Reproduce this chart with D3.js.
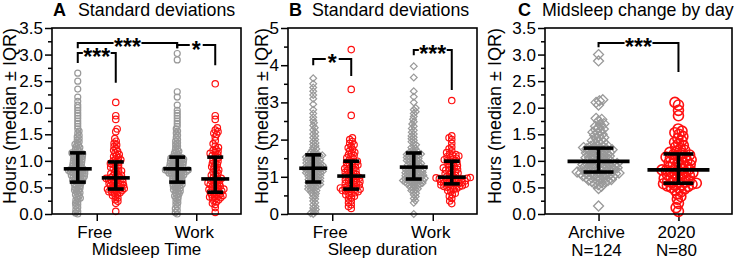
<!DOCTYPE html>
<html>
<head>
<meta charset="utf-8">
<script src="https://cdn.jsdelivr.net/npm/d3@7"></script>
<style>
  body { margin: 0; background: #fff; }
  svg { display: block; }
  text { font-family: "Liberation Sans", Arial, sans-serif; }
</style>
</head>
<body>
<div id="chart"></div>
<script>
// ---- data (hours) ----
const catsAB = ["Free", "Work"];
const catsC = ["Archive", "2020"];
const labelsC = [["Archive", "N=124"], ["2020", "N=80"]];

// A: SD of midsleep time
const aFreeArchive = [0,0.02,0.05,0.08,0.12,0.15,0.18,0.2,0.23,0.26,0.28,0.3,0.32,0.34,0.36,0.38,0.4,0.42,0.44,0.45,0.47,0.48,0.5,0.51,0.53,0.54,0.56,0.57,0.58,0.6,0.61,
  0.62,0.63,0.64,0.65,0.66,0.67,0.68,0.69,0.7,0.71,0.71,0.72,0.73,0.74,0.75,0.75,0.76,0.77,0.78,0.78,0.79,0.8,0.8,0.81,0.82,0.82,0.83,0.83,0.84,0.84,0.85,
  0.86,0.87,0.88,0.89,0.9,0.91,0.92,0.93,0.94,0.95,0.96,0.97,0.98,0.99,1.0,1.01,1.02,1.03,1.04,1.05,1.06,1.07,1.08,1.09,1.1,1.11,1.12,1.13,1.14,1.15,1.15,
  1.17,1.19,1.21,1.23,1.25,1.27,1.29,1.31,1.33,1.36,1.39,1.42,1.45,1.48,1.52,1.56,1.6,1.65,1.7,1.75,1.8,1.85,1.9,1.95,2.0,2.05,2.12,2.2,2.35,2.5,2.65];
const aFree2020 = [0.05,0.2,0.24,0.27,0.3,0.33,0.35,0.37,0.39,0.4,0.41,0.42,0.43,0.44,0.45,0.46,0.47,0.47,0.48,0.49,
  0.5,0.51,0.52,0.53,0.54,0.55,0.56,0.57,0.58,0.59,0.6,0.61,0.62,0.63,0.64,0.65,0.66,0.66,0.67,0.68,
  0.69,0.7,0.72,0.73,0.75,0.76,0.78,0.8,0.81,0.83,0.85,0.86,0.88,0.9,0.92,0.93,0.95,0.97,0.98,1.0,
  1.02,1.04,1.06,1.08,1.1,1.12,1.15,1.18,1.2,1.23,1.27,1.3,1.33,1.37,1.42,1.55,1.6,1.78,1.85,2.1];
const aWorkArchive = [0,0.03,0.07,0.1,0.14,0.18,0.21,0.24,0.27,0.3,0.32,0.34,0.36,0.38,0.4,0.42,0.43,0.45,0.46,0.48,0.49,0.5,0.52,0.53,0.54,0.55,0.56,0.57,0.58,0.59,0.6,
  0.61,0.62,0.63,0.64,0.65,0.66,0.67,0.68,0.69,0.7,0.71,0.72,0.73,0.74,0.74,0.75,0.76,0.77,0.77,0.78,0.79,0.79,0.8,0.8,0.81,0.81,0.82,0.82,0.83,0.83,0.84,
  0.85,0.86,0.86,0.87,0.88,0.89,0.89,0.9,0.91,0.92,0.92,0.93,0.94,0.95,0.95,0.96,0.97,0.98,0.98,0.99,1.0,1.0,1.01,1.02,1.03,1.03,1.04,1.05,1.05,1.06,1.07,
  1.08,1.1,1.12,1.14,1.16,1.18,1.2,1.22,1.25,1.28,1.31,1.34,1.37,1.4,1.44,1.48,1.52,1.56,1.6,1.65,1.7,1.75,1.8,1.85,1.9,1.95,2.05,2.2,2.3,2.9,3.02];
const aWork2020 = [0.03,0.12,0.18,0.2,0.23,0.25,0.27,0.29,0.3,0.31,0.32,0.33,0.34,0.35,0.36,0.37,0.38,0.4,0.41,0.42,
  0.43,0.44,0.45,0.46,0.47,0.48,0.5,0.51,0.52,0.54,0.55,0.56,0.58,0.59,0.6,0.62,0.63,0.64,0.66,0.67,
  0.69,0.71,0.73,0.75,0.77,0.79,0.81,0.83,0.85,0.87,0.89,0.91,0.93,0.95,0.97,0.99,1.01,1.03,1.06,1.09,
  1.1,1.12,1.14,1.16,1.18,1.2,1.22,1.25,1.28,1.32,1.38,1.45,1.5,1.52,1.55,1.58,1.62,1.78,1.85,2.45];

// B: SD of sleep duration
const bFreeArchive = [0,0.02,0.05,0.08,0.12,0.16,0.2,0.25,0.3,0.35,0.4,0.44,0.48,0.52,0.55,0.58,0.61,0.63,0.65,0.67,0.69,0.71,0.73,0.75,0.76,0.78,0.79,0.81,0.82,0.84,0.85,
  0.86,0.88,0.89,0.9,0.92,0.93,0.94,0.96,0.97,0.98,1.0,1.01,1.02,1.04,1.05,1.06,1.08,1.09,1.1,1.11,1.12,1.13,1.14,1.15,1.16,1.17,1.18,1.19,1.2,1.21,1.22,
  1.23,1.24,1.25,1.26,1.27,1.28,1.29,1.3,1.31,1.32,1.33,1.35,1.36,1.37,1.38,1.4,1.41,1.42,1.43,1.45,1.46,1.47,1.48,1.5,1.51,1.52,1.53,1.55,1.56,1.57,1.58,
  1.6,1.63,1.66,1.69,1.72,1.75,1.79,1.83,1.87,1.91,1.95,2.0,2.05,2.1,2.15,2.2,2.26,2.32,2.38,2.45,2.52,2.6,2.7,2.8,2.95,3.1,3.2,3.3,3.4,3.5,3.65];
const bFree2020 = [0.15,0.2,0.25,0.3,0.35,0.4,0.44,0.48,0.5,0.52,0.55,0.57,0.59,0.6,0.62,0.63,0.65,0.66,0.67,0.68,
  0.7,0.71,0.73,0.75,0.77,0.78,0.8,0.82,0.84,0.85,0.87,0.89,0.9,0.92,0.94,0.95,0.97,0.99,1.0,1.02,
  1.04,1.06,1.08,1.1,1.12,1.14,1.16,1.18,1.2,1.22,1.24,1.26,1.28,1.3,1.32,1.34,1.36,1.38,1.4,1.42,
  1.45,1.48,1.51,1.54,1.57,1.6,1.63,1.66,1.7,1.74,1.78,1.82,1.86,1.9,1.95,2.0,2.05,2.65,3.35,4.42];
const bWorkArchive = [0,0.3,0.36,0.42,0.47,0.52,0.56,0.6,0.63,0.66,0.68,0.7,0.72,0.74,0.76,0.78,0.79,0.8,0.81,0.82,0.83,0.84,0.85,0.86,0.87,0.88,0.89,0.9,0.9,0.91,0.92,
  0.93,0.94,0.95,0.96,0.97,0.98,0.99,1.0,1.01,1.02,1.03,1.04,1.05,1.06,1.07,1.08,1.09,1.1,1.11,1.12,1.13,1.14,1.15,1.16,1.17,1.18,1.19,1.2,1.22,1.23,1.25,
  1.26,1.27,1.28,1.3,1.31,1.32,1.34,1.35,1.36,1.38,1.39,1.4,1.42,1.43,1.44,1.46,1.47,1.48,1.5,1.51,1.52,1.54,1.55,1.56,1.58,1.59,1.6,1.61,1.62,1.64,1.65,
  1.67,1.7,1.73,1.76,1.79,1.82,1.86,1.9,1.94,1.98,2.02,2.06,2.1,2.15,2.2,2.25,2.3,2.36,2.42,2.48,2.55,2.62,2.7,2.75,2.8,2.85,3.0,3.15,3.3,3.67,3.97];
const bWork2020 = [0.28,0.35,0.42,0.48,0.52,0.56,0.6,0.63,0.66,0.68,0.7,0.72,0.73,0.74,0.75,0.76,0.77,0.78,0.79,0.8,
  0.81,0.82,0.83,0.84,0.85,0.86,0.87,0.88,0.89,0.9,0.91,0.92,0.93,0.94,0.95,0.95,0.96,0.97,0.97,0.98,
  1.0,1.02,1.04,1.06,1.08,1.1,1.12,1.14,1.16,1.18,1.2,1.22,1.24,1.26,1.28,1.3,1.32,1.35,1.38,1.4,
  1.42,1.44,1.46,1.48,1.5,1.52,1.54,1.56,1.58,1.6,1.62,1.65,1.7,1.75,1.8,1.9,2.0,2.05,2.1,3.05];

// C: midsleep change by day
const cArchive = [0.15,0.48,0.52,0.55,0.57,0.59,0.6,0.61,0.62,0.63,0.64,0.65,0.66,0.67,0.68,0.68,0.69,0.7,0.71,0.71,0.72,0.73,0.73,0.74,0.75,0.75,0.76,0.76,0.77,0.77,0.78,
  0.79,0.79,0.8,0.81,0.81,0.82,0.83,0.83,0.84,0.85,0.85,0.86,0.87,0.87,0.88,0.89,0.89,0.9,0.91,0.91,0.92,0.93,0.93,0.94,0.95,0.95,0.96,0.97,0.98,0.99,1.0,
  1.01,1.02,1.03,1.04,1.05,1.06,1.06,1.07,1.08,1.09,1.1,1.11,1.12,1.13,1.14,1.15,1.15,1.16,1.17,1.18,1.19,1.2,1.21,1.21,1.22,1.23,1.24,1.25,1.25,1.26,1.27,
  1.28,1.3,1.31,1.33,1.35,1.36,1.38,1.4,1.42,1.44,1.46,1.48,1.5,1.52,1.54,1.56,1.58,1.6,1.62,1.65,1.68,1.7,1.75,1.78,1.8,2.05,2.1,2.13,2.15,2.88,3.0];
const c2020 = [0.05,0.12,0.2,0.28,0.33,0.38,0.42,0.45,0.47,0.49,0.5,0.52,0.53,0.54,0.55,0.56,0.57,0.58,0.59,0.6,
  0.61,0.62,0.63,0.65,0.66,0.67,0.69,0.7,0.71,0.73,0.74,0.75,0.77,0.78,0.79,0.8,0.81,0.82,0.83,0.84,
  0.85,0.87,0.88,0.9,0.91,0.93,0.94,0.96,0.97,0.99,1.0,1.02,1.03,1.05,1.06,1.07,1.08,1.1,1.11,1.12,
  1.14,1.16,1.18,1.2,1.23,1.26,1.29,1.32,1.35,1.38,1.42,1.46,1.5,1.53,1.56,1.6,1.85,1.95,2.05,2.1];

// median / IQR as plotted (order: Free-Archive, Free-2020, Work-Archive, Work-2020)
const aMedian = [0.85, 0.68, 0.85, 0.66];
const aQ1 = [0.60, 0.47, 0.60, 0.41];
const aQ3 = [1.15, 0.98, 1.07, 1.07];
const bMedian = [1.23, 1.02, 1.26, 0.99];
const bQ1 = [0.86, 0.67, 0.94, 0.81];
const bQ3 = [1.59, 1.42, 1.64, 1.42];
const cMedian = [0.99, 0.83];
const cQ1 = [0.79, 0.58];
const cQ3 = [1.24, 1.13];

// significance brackets (group index, bar height, leg ends, label)
const aBrackets = [
  { from: 0, to: 1, y: 3.03, yl: 2.84, yr: 2.47, label: "***" },
  { from: 0, to: 2, y: 3.22, yl: 3.12, yr: 3.12, label: "***" },
  { from: 2, to: 3, y: 3.18, yl: 3.12, yr: 2.80, label: "*" }
];
const bBrackets = [
  { from: 0, to: 1, y: 4.17, yl: 4.0, yr: 3.71, label: "*" },
  { from: 2, to: 3, y: 4.41, yl: 4.27, yr: 3.33, label: "***" }
];
const cBrackets = [
  { from: 0, to: 1, y: 3.22, yl: 3.14, yr: 2.67, label: "***" }
];

// ---- drawing ----
const W = 734, H = 261;
const TOP = 28, BOTTOM = 214;
const GRAY = "#999999", RED = "#ff1010";

const svg = d3.select("#chart").append("svg")
  .attr("width", W).attr("height", H);

// simple beeswarm: each point goes to the free x closest to the centre
function swarm(values, y, cx, d) {
  const placed = [];
  values.map(v => ({ v, y: y(v) }))
    .sort((a, b) => b.y - a.y)
    .forEach((p, i) => {
      const near = placed.filter(q => Math.abs(q.y - p.y) < d);
      const cands = [cx];
      near.forEach(q => {
        const dx = Math.sqrt(d * d - (q.y - p.y) ** 2);
        cands.push(q.x - dx, q.x + dx);
      });
      const ok = cands.filter(c => near.every(q => {
        const dx = Math.sqrt(d * d - (q.y - p.y) ** 2);
        return Math.abs(c - q.x) >= dx - 1e-6;
      }));
      ok.sort((a, b) => Math.abs(a - cx) - Math.abs(b - cx) || (i % 2 ? a - b : b - a));
      p.x = ok[0];
      placed.push(p);
    });
  return placed;
}

function drawPanel(p) {
  const g = svg.append("g");
  const y = d3.scaleLinear().domain([0, p.yMax]).range([BOTTOM, TOP]);
  const x = d3.scalePoint().domain(p.cats).range([p.left, p.right]).padding(p.pad);
  const gx = grp => x(grp.cat) + grp.side * p.off;

  // minor + major y ticks
  const major = d3.range(0, p.yMax + 1e-9, p.step);
  const minor = d3.range(p.step / 2, p.yMax, p.step);
  g.append("g")
    .attr("transform", `translate(${p.left},0)`)
    .call(d3.axisLeft(y).tickValues(minor).tickSize(4).tickSizeOuter(0).tickFormat(""))
    .call(a => a.select(".domain").remove())
    .selectAll("line").attr("stroke-width", 1.5);
  g.append("g")
    .attr("transform", `translate(${p.left},0)`)
    .call(d3.axisLeft(y).tickValues(major).tickSize(7).tickPadding(2).tickSizeOuter(0).tickFormat(p.fmt))
    .attr("font-size", 17)
    .call(a => a.select(".domain").remove())
    .call(a => a.selectAll("line").attr("stroke-width", 1.5))
    .call(a => a.selectAll("text").attr("fill", "#000"));

  // x ticks
  g.append("g")
    .attr("transform", `translate(0,${BOTTOM})`)
    .call(d3.axisBottom(x).tickSize(7).tickSizeOuter(0).tickFormat(""))
    .call(a => a.select(".domain").remove())
    .selectAll("line").attr("stroke-width", 1.5);

  p.xLabels.forEach((lines, i) => {
    lines.forEach((t, j) => {
      g.append("text")
        .attr("x", x(p.cats[i]) - 2)
        .attr("y", 238 + j * 18)
        .attr("text-anchor", "middle")
        .attr("font-size", 17)
        .text(t);
    });
  });
  if (p.xTitle) {
    g.append("text")
      .attr("x", (p.left + p.right) / 2)
      .attr("y", 255)
      .attr("text-anchor", "middle")
      .attr("font-size", 17)
      .text(p.xTitle);
  }

  // y title
  g.append("text")
    .attr("transform", `translate(${p.yTitleX},116) rotate(-90)`)
    .attr("text-anchor", "middle")
    .attr("font-size", 18)
    .text("Hours (median \u00B1 IQR)");

  // panel title
  g.append("text")
    .attr("x", p.letterX).attr("y", 16)
    .attr("font-size", 18).attr("font-weight", "bold")
    .text(p.letter);
  g.append("text")
    .attr("x", p.titleX).attr("y", 16)
    .attr("font-size", 17.8)
    .text(p.title);

  // points
  p.groups.forEach(grp => {
    const pts = swarm(grp.values, y, gx(grp), grp.d);
    const col = grp.side < 0 || grp.gray ? GRAY : RED;
    if (grp.shape === "diamond") {
      const s = grp.size;
      g.append("g").selectAll("path").data(pts).join("path")
        .attr("d", d => `M${d.x},${d.y - s}L${d.x + s},${d.y}L${d.x},${d.y + s}L${d.x - s},${d.y}Z`)
        .attr("fill", "none").attr("stroke", col).attr("stroke-width", grp.sw);
    } else {
      g.append("g").selectAll("circle").data(pts).join("circle")
        .attr("cx", d => d.x).attr("cy", d => d.y).attr("r", grp.size)
        .attr("fill", "none").attr("stroke", col).attr("stroke-width", grp.sw);
    }
  });

  // median and IQR bars
  p.groups.forEach((grp, i) => {
    const cx = gx(grp);
    const bar = g.append("g").attr("stroke", "#000").attr("stroke-width", 3.6);
    bar.append("line").attr("x1", cx).attr("x2", cx).attr("y1", y(p.q1[i])).attr("y2", y(p.q3[i]));
    bar.append("line").attr("x1", cx - p.medHalf).attr("x2", cx + p.medHalf)
      .attr("y1", y(p.median[i])).attr("y2", y(p.median[i]));
    [p.q1[i], p.q3[i]].forEach(v => {
      bar.append("line").attr("x1", cx - p.capHalf).attr("x2", cx + p.capHalf)
        .attr("y1", y(v)).attr("y2", y(v));
    });
  });

  // brackets
  p.brackets.forEach(b => {
    const x1 = gx(p.groups[b.from]), x2 = gx(p.groups[b.to]);
    const yy = y(b.y), xm = (x1 + x2) / 2;
    const t = g.append("text")
      .attr("x", xm).attr("y", yy + 12.5)
      .attr("text-anchor", "middle")
      .attr("font-size", 23).attr("font-weight", "bold")
      .text(b.label);
    const half = t.node().getComputedTextLength() / 2 + (b.label.length === 1 ? 2 : 0.5);
    g.append("path")
      .attr("d", `M${x1},${y(b.yl)}V${yy}H${xm - half}M${xm + half},${yy}H${x2}V${y(b.yr)}`)
      .attr("fill", "none").attr("stroke", "#000").attr("stroke-width", 2);
  });

  // frame
  g.append("rect")
    .attr("x", p.left).attr("y", TOP)
    .attr("width", p.right - p.left).attr("height", BOTTOM - TOP)
    .attr("fill", "none").attr("stroke", "#000").attr("stroke-width", 1.6);
}

drawPanel({
  letter: "A", title: "Standard deviations", xTitle: "Midsleep Time",
  letterX: 53, titleX: 78, yTitleX: 16,
  left: 52, right: 241, yMax: 3.5, step: 0.5, fmt: d3.format(".1f"),
  cats: catsAB, pad: 0.45, off: 19, xLabels: catsAB.map(c => [c]),
  median: aMedian, q1: aQ1, q3: aQ3, medHalf: 14, capHalf: 8,
  brackets: aBrackets,
  groups: [
    { cat: "Free", side: -1, values: aFreeArchive, shape: "circle", size: 3, sw: 1.2, d: 2.5 },
    { cat: "Free", side: 1, values: aFree2020, shape: "circle", size: 3.2, sw: 1.2, d: 3.0 },
    { cat: "Work", side: -1, values: aWorkArchive, shape: "circle", size: 3, sw: 1.2, d: 2.5 },
    { cat: "Work", side: 1, values: aWork2020, shape: "circle", size: 3.2, sw: 1.2, d: 3.0 }
  ]
});

drawPanel({
  letter: "B", title: "Standard deviations", xTitle: "Sleep duration",
  letterX: 289, titleX: 312, yTitleX: 268,
  left: 288, right: 477, yMax: 5, step: 1, fmt: d3.format("d"),
  cats: catsAB, pad: 0.44, off: 19, xLabels: catsAB.map(c => [c]),
  median: bMedian, q1: bQ1, q3: bQ3, medHalf: 14, capHalf: 8,
  brackets: bBrackets,
  groups: [
    { cat: "Free", side: -1, values: bFreeArchive, shape: "diamond", size: 3.4, sw: 1.2, d: 2.7 },
    { cat: "Free", side: 1, values: bFree2020, shape: "circle", size: 3.2, sw: 1.2, d: 3.3 },
    { cat: "Work", side: -1, values: bWorkArchive, shape: "diamond", size: 3.4, sw: 1.2, d: 2.7 },
    { cat: "Work", side: 1, values: bWork2020, shape: "circle", size: 3.2, sw: 1.2, d: 3.3 }
  ]
});

drawPanel({
  letter: "C", title: "Midsleep change by day", xTitle: null,
  letterX: 518, titleX: 542, yTitleX: 501,
  left: 545, right: 732, yMax: 3.5, step: 0.5, fmt: d3.format(".1f"),
  cats: catsC, pad: 0.67, off: 0, xLabels: labelsC,
  median: cMedian, q1: cQ1, q3: cQ3, medHalf: 31, capHalf: 15,
  brackets: cBrackets,
  groups: [
    { cat: "Archive", side: 0, gray: true, values: cArchive, shape: "diamond", size: 5, sw: 1.3, d: 3.6 },
    { cat: "2020", side: 1, values: c2020, shape: "circle", size: 5, sw: 1.6, d: 4.4 }
  ]
});
</script>
</body>
</html>
